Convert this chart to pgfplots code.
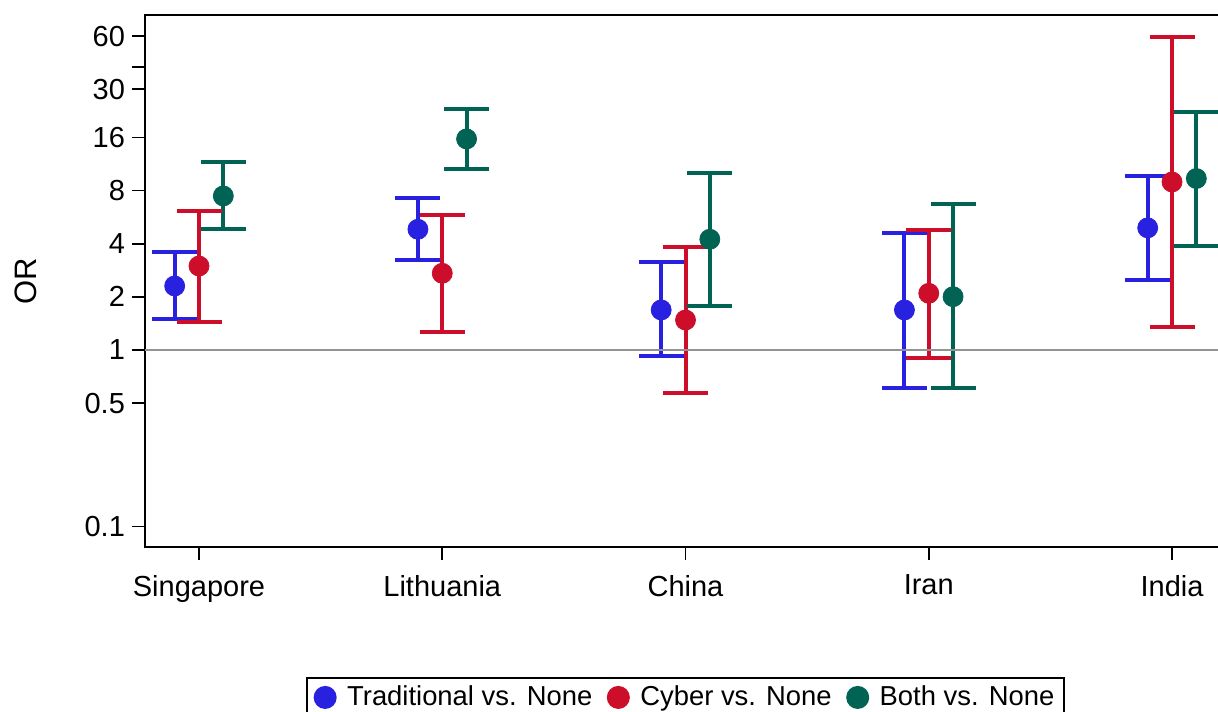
\documentclass[border=0pt]{standalone}
\usepackage{pgfplots}
\usepackage{pgfplotstable}
\pgfplotsset{compat=1.18}
\usepackage{fontspec}
\setmainfont{Liberation Sans}
\definecolor{cblue}{RGB}{41,33,224}
\definecolor{cred}{RGB}{204,14,42}
\definecolor{cgreen}{RGB}{0,99,84}

% x: 0=Singapore 1=Lithuania 2=China 3=Iran 4=India (OR point estimates)
\pgfplotstableread{
x y
-0.1 2.305
0.9 4.83
1.9 1.686
2.9 1.686
3.9 4.92
}\trad
\pgfplotstableread{
x y
0 2.99
1 2.72
2 1.479
3 2.095
4 8.95
}\cyber
\pgfplotstableread{
x y
0.1 7.46
1.1 15.69
2.1 4.24
3.1 2.004
4.1 9.36
}\both

\pgfplotsset{
  cibar/.style={line width=2pt, mark=-, mark size=11.25pt,
    mark options={line width=2pt, solid}, unbounded coords=jump, forget plot},
  orpt/.style={only marks, mark=*, mark size=5pt},
}

\begin{document}
\begin{tikzpicture}
\begin{axis}[
  at={(0,0)}, anchor=south west,
  scale only axis, width=540.5pt, height=266pt,
  xmin=-0.222, xmax=4.222,
  ymode=log, ymin=0.0766, ymax=79,
  xtick={0,1,2,3,4},
  xticklabels={Singapore,Lithuania,China,Iran,India},
  ytick={0.1,0.5,1,2,4,8,16,30,40,60},
  yticklabels={0.1,0.5,1,2,4,8,16,30,,60},
  yminorticks=false, xminorticks=false,
  xtick pos=left, ytick pos=left,
  tick align=outside,
  major tick length=6.5pt,
  tick style={line width=0.8pt, black},
  axis line style={line width=1.2pt},
  /pgf/number format/assume math mode=true,
  tick label style={font=\fontsize{14.5}{17}\selectfont},
  xticklabel style={yshift=-4pt},
  ylabel={OR},
  every axis y label/.style={at={(axis description cs:-0.110,0.5)}, anchor=center, rotate=90, font=\fontsize{15.5}{18}\selectfont},
  legend columns=-1,
  legend style={at={(axis description cs:0.5,0)}, anchor=north, yshift=-65pt,
    draw=black, line width=1pt, font=\fontsize{13.7}{16}\selectfont,
    inner xsep=3pt, inner ysep=2pt,
    nodes={inner xsep=2pt},
    /tikz/every even column/.append style={column sep=4.75pt}},
  legend image code/.code={\path (-5.75pt,0) -- (8.5pt,0); \fill (0pt,0pt) circle (5.25pt);},
  clip=true,
]
% Traditional vs. None: 95% CI bars then point estimates
\addplot[cblue, cibar] table {
x y
-0.1 1.498
-0.1 3.59
nan nan
0.9 3.24
0.9 7.29
nan nan
1.9 0.925
1.9 3.165
nan nan
2.9 0.612
2.9 4.62
nan nan
3.9 2.48
3.9 9.68
};
\addplot[cblue, orpt] table {\trad};
\addlegendentry{Traditional vs. None}
% Cyber vs. None
\addplot[cred, cibar] table {
x y
0 1.44
0 6.13
nan nan
1 1.265
1 5.80
nan nan
2 0.568
2 3.85
nan nan
3 0.904
3 4.786
nan nan
4 1.35
4 59.5
};
\addplot[cred, orpt] table {\cyber};
\addlegendentry{Cyber vs. None}
% Both vs. None
\addplot[cgreen, cibar] table {
x y
0.1 4.85
0.1 11.62
nan nan
1.1 10.65
1.1 23.2
nan nan
2.1 1.776
2.1 10.1
nan nan
3.1 0.607
3.1 6.72
nan nan
4.1 3.90
4.1 22.4
};
\addplot[cgreen, orpt] table {\both};
\addlegendentry{Both vs. None}
\addplot[gray!85, line width=1pt, forget plot] coordinates {(-0.222,1) (4.222,1)};
\end{axis}
\pgfresetboundingbox
\useasboundingbox (-72.5pt,-82pt) rectangle (536.5pt,273.5pt);
\end{tikzpicture}
\end{document}
